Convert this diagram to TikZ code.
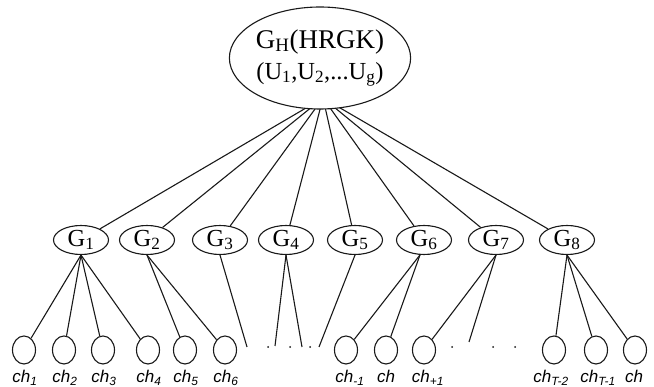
\documentclass[tikz,border=0pt]{standalone}
\usepackage{fontspec}
\setmainfont{Liberation Serif}
\newfontfamily\chfont{Liberation Sans}
\usetikzlibrary{shapes.geometric,backgrounds}
\begin{document}
\begin{tikzpicture}[x=1pt,y=-1pt,
  link/.style={line width=1.1pt, draw=black!90},
  hubnode/.style={ellipse, draw=black!90, line width=1.1pt, fill=white,
    inner sep=0pt, minimum width=172pt, minimum height=102pt, align=center,
    font=\fontsize{27}{31}\selectfont},
  grp/.style={ellipse, draw=black!90, line width=1.1pt, fill=white,
    inner sep=0pt, minimum width=55pt, minimum height=29pt,
    font=\fontsize{24.5}{24}\selectfont},
  chan/.style={ellipse, draw=black!90, line width=1.1pt, fill=white,
    inner sep=0pt, minimum width=23pt, minimum height=28pt},
  chlab/.style={anchor=base, inner sep=0pt,
    font=\chfont\itshape\fontsize{17}{18}\selectfont},
  gapdot/.style={circle, fill=black!90, inner sep=0pt, minimum size=2pt}
]
\useasboundingbox (0,0) rectangle (654,387);

% root node
\node[hubnode] (top) at (320,58)
  {G\textsubscript{H}(HRGK)\\
   {\fontsize{24.5}{31}\selectfont (U\textsubscript{1},U\textsubscript{2},...U\textsubscript{g})}};
\coordinate (hub) at (323,98);

% group nodes
\node[grp] (g1) at (81,240)  {G\textsubscript{1}};
\node[grp] (g2) at (147,240) {G\textsubscript{2}};
\node[grp] (g3) at (220,240) {G\textsubscript{3}};
\node[grp] (g4) at (286,240) {G\textsubscript{4}};
\node[grp] (g5) at (355,240) {G\textsubscript{5}};
\node[grp] (g6) at (424,240) {G\textsubscript{6}};
\node[grp] (g7) at (496,240) {G\textsubscript{7}};
\node[grp] (g8) at (567,240) {G\textsubscript{8}};

% links from the root to the groups
\begin{scope}[on background layer]
  \foreach \g in {g1,g2,g3,g4,g5,g6,g7,g8}
    \draw[link] (hub) -- (\g);
\end{scope}

% channel nodes
\node[chan] (c1)  at (24,350)  {};
\node[chan] (c2)  at (64,350)  {};
\node[chan] (c3)  at (103,350) {};
\node[chan] (c4)  at (148,350) {};
\node[chan] (c5)  at (185,350) {};
\node[chan] (c6)  at (225,350) {};
\node[chan] (c7)  at (346,350) {};
\node[chan] (c8)  at (386,350) {};
\node[chan] (c9)  at (424,350) {};
\node[chan] (c10) at (554,350) {};
\node[chan] (c11) at (596,350) {};
\node[chan] (c12) at (635,350) {};

% channel labels
\node[chlab] (l1)  at (25,383)  {ch\textsubscript{1}};
\node[chlab] (l2)  at (65,383)  {ch\textsubscript{2}};
\node[chlab] (l3)  at (104,383) {ch\textsubscript{3}};
\node[chlab] (l4)  at (149,383) {ch\textsubscript{4}};
\node[chlab] (l5)  at (186,383) {ch\textsubscript{5}};
\node[chlab] (l6)  at (226,383) {ch\textsubscript{6}};
\node[chlab] (l7)  at (350,383) {ch\textsubscript{-1}};
\node[chlab] (l8)  at (386,383) {ch};
\node[chlab] (l9)  at (428,383) {ch\textsubscript{+1}};
\node[chlab] (l10) at (551,383) {ch\textsubscript{T-2}};
\node[chlab] (l11) at (598,383) {ch\textsubscript{T-1}};
\node[chlab] (l12) at (634,383) {ch};

% open ends of elided branches
\coordinate (e3)  at (247,347);
\coordinate (e4a) at (275,346);
\coordinate (e4b) at (302,347);
\coordinate (e5)  at (319,347);
\coordinate (e7)  at (469,342);

% links from the groups to the channels
\draw[link] (g1.south) -- (c1);
\draw[link] (g1.south) -- (c2);
\draw[link] (g1.south) -- (c3);
\draw[link] (g1.south) -- (c4);
\draw[link] (g2.south) -- (c5);
\draw[link] (g2.south) -- (c6);
\draw[link] (g3.south) -- (e3);
\draw[link] (g4.south) -- (e4a);
\draw[link] (g4.south) -- (e4b);
\draw[link] (g5.south) -- (e5);
\draw[link] (g6.255) -- (c7);
\draw[link] (g6.255) -- (c8);
\draw[link] (g7.south) -- (c9);
\draw[link] (g7.south) -- (e7);
\draw[link] (g8.south) -- (c10);
\draw[link] (g8.south) -- (c11);
\draw[link] (g8.south) -- (c12);

% ellipsis dots
\node[gapdot] (d1) at (268,347) {};
\node[gapdot] (d2) at (290,347) {};
\node[gapdot] (d3) at (310,347) {};
\node[gapdot] (d4) at (452,347) {};
\node[gapdot] (d5) at (493,347) {};
\node[gapdot] (d6) at (515,347) {};
\end{tikzpicture}
\end{document}
